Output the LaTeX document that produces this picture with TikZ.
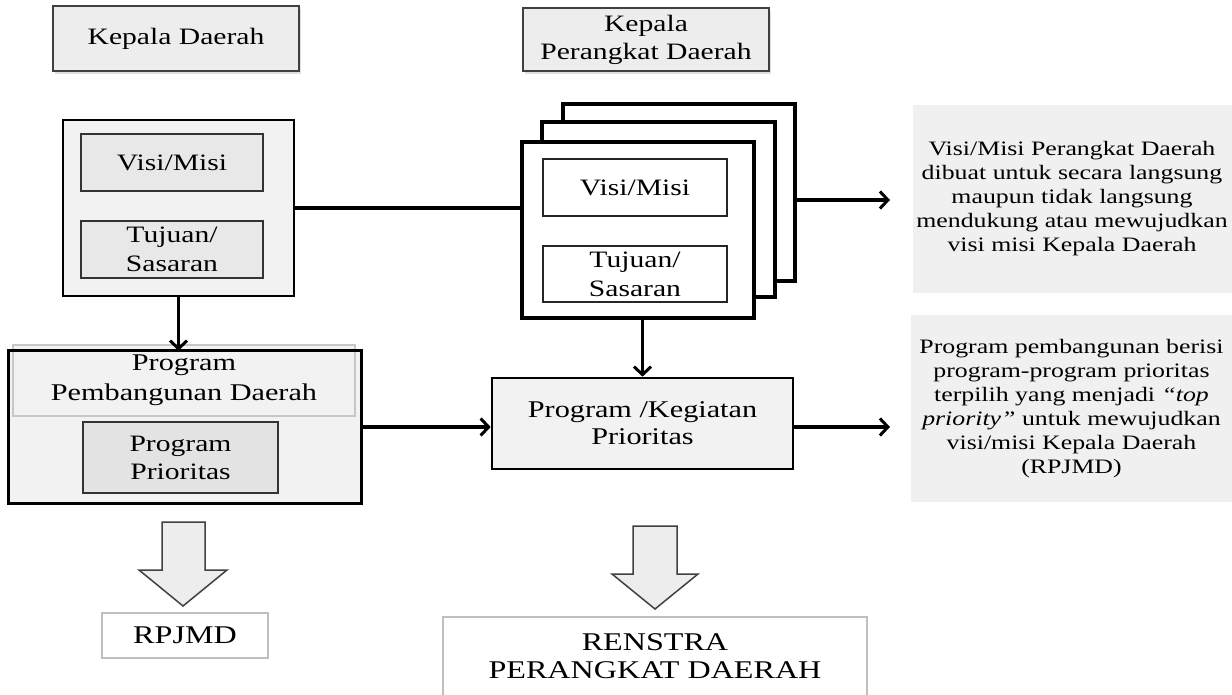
\documentclass[tikz,border=0pt]{standalone}
\usepackage{fontspec}
\setmainfont[FakeStretch=1.26]{Liberation Serif}
\usetikzlibrary{arrows.meta,shadows}
\newcommand\fsz[2]{\fontsize{#1}{#2}\selectfont}
\tikzset{
  headbox/.style={draw=black!75,line width=1.8pt,fill=black!7,align=center,
    drop shadow={opacity=0.25,shadow xshift=2pt,shadow yshift=-3pt}},
  outerbox/.style={draw=black,line width=2.6pt,fill=black!5},
  innerbox/.style={draw=black!80,line width=1.8pt,fill=black!9,align=center},
  stackbox/.style={draw=black,line width=3.4pt,fill=white},
  whitebox/.style={draw=black!85,line width=1.8pt,fill=white,align=center},
  notebox/.style={fill=black!6,align=center,font=\fsz{20.5}{24}},
  outbox/.style={draw=black!25,line width=2.4pt,fill=white,align=center},
  bigarrow/.style={draw=black!75,line width=1.5pt,fill=black!7,line join=miter},
  link/.style={line width=3.4pt,-{Straight Barb[length=8pt,width=17pt,line width=3pt]}}
}
\begin{document}
\begin{tikzpicture}[x=1pt,y=-1pt]
      \useasboundingbox (0,0) rectangle (1232,694);
      % top labels
      \draw
        (176,38.5) node[headbox,minimum width=246,minimum height=65,font=\fsz{23.5}{28}] (kd){Kepala Daerah}
        (646,39.5) node[headbox,minimum width=246,minimum height=63,font=\fsz{23.5}{28}] (kpd){Kepala\\Perangkat Daerah};
      % kepala daerah column
      \draw
        (178.5,208) node[outerbox,minimum width=231,minimum height=176] (kdvm){}
        (172,162.5) node[innerbox,minimum width=182,minimum height=57,font=\fsz{23.5}{28}] (kdvisi){Visi/Misi}
        (172,249.5) node[innerbox,minimum width=182,minimum height=57,font=\fsz{23.5}{29}] (kdtujuan){Tujuan/\\Sasaran};
      \draw
        (185,427) node[outerbox,draw=none,minimum width=350,minimum height=150] (ppd){}
        (184,380.5) node[draw=black!22,line width=1.8pt,fill=black!5,minimum width=342,minimum height=71,align=center,font=\fsz{24}{30}] (ppdhead){Program\\Pembangunan Daerah}
        (180.5,457.5) node[innerbox,fill=black!11,minimum width=195,minimum height=71,font=\fsz{23.5}{28}] (pprior){Program\\Prioritas};
      \draw[line width=3pt] (ppd.north west) rectangle (ppd.south east);
      % perangkat daerah column
      \draw
        (679,192.5) node[stackbox,minimum width=232,minimum height=177] (pdback){}
        (658.5,209.5) node[stackbox,minimum width=233,minimum height=175] (pdmid){}
        (638,230) node[stackbox,minimum width=232,minimum height=176] (pdfront){}
        (635,187.5) node[whitebox,minimum width=184,minimum height=57,font=\fsz{23.5}{28}] (pdvisi){Visi/Misi}
        (635,274) node[whitebox,minimum width=184,minimum height=56,font=\fsz{23.5}{29}] (pdtujuan){Tujuan/\\Sasaran};
      \draw
        (642.5,423.5) node[outerbox,minimum width=301,minimum height=91,align=center,font=\fsz{24}{27}] (pk){Program /Kegiatan\\Prioritas};
      % notes
      \draw
        (1072,199) node[notebox,minimum width=319,minimum height=188] (note1){Visi/Misi Perangkat Daerah\\dibuat untuk secara langsung\\maupun tidak langsung\\mendukung atau mewujudkan\\visi misi Kepala Daerah}
        (1071.5,408.5) node[notebox,minimum width=321,minimum height=187] (note2){Program pembangunan berisi\\program-program prioritas\\terpilih yang menjadi \textit{“top}\\\textit{priority”} untuk mewujudkan\\visi/misi Kepala Daerah\\(RPJMD)};
      \coordinate (end1) at (890,200);
      \coordinate (end2) at (890,427);
      % outputs
      \draw
        (185,635.5) node[outbox,minimum width=166,minimum height=45,font=\fsz{25.5}{28}] (rpjmd){RPJMD}
        (655,668.5) node[outbox,minimum width=424,minimum height=103] (renstra){}
        (655,656) node[font=\fsz{25.5}{28},align=center] (renstratext){RENSTRA\\PERANGKAT DAERAH};
      \draw[bigarrow] (162,522) -- (205,522) -- (205,570) -- (227,570) -- (183,606) -- (139,570) -- (162,570) -- cycle;
      \draw[bigarrow] (633,526) -- (677,526) -- (677,574) -- (698,574) -- (655,609) -- (612,574) -- (633,574) -- cycle;
      \begin{scope}[link]
        \draw[-] (kdvm.east) to (kdvm.east -| pdfront.west);
        \draw (pdback.east |- end1) to (end1);
        \draw (kdvm.south) to (kdvm.south |- ppd.north);
        \draw (pdfront.south -| pk.north) to (pk.north);
        \draw (ppd.east) to (ppd.east -| pk.west);
        \draw (pk.east |- end2) to (end2);
      \end{scope}
    \end{tikzpicture}
\end{document}
